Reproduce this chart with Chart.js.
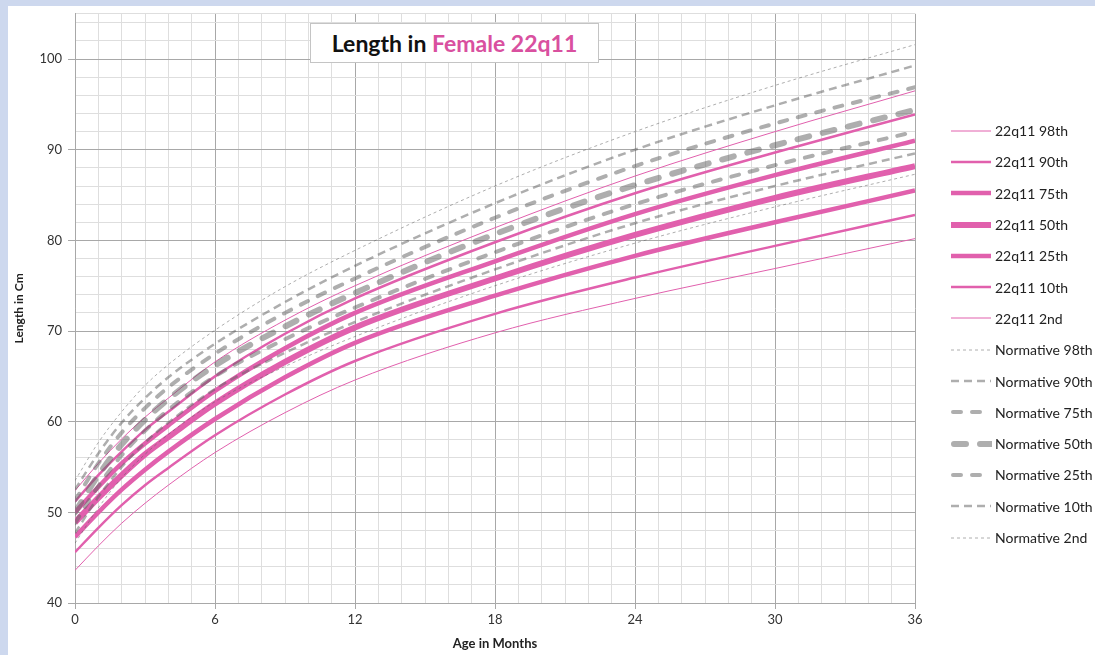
<!DOCTYPE html>
<html>
<head>
<meta charset="utf-8">
<title>Length in Female 22q11</title>
<script src="https://cdn.jsdelivr.net/npm/chart.js@4.4.0/dist/chart.umd.min.js"></script>
<style>
    html, body { margin: 0; padding: 0; }
    body {
        width: 1095px; height: 655px; position: relative; overflow: hidden;
        background: #cdd8ee; font-family: Lato, 'Open Sans', sans-serif;
    }
    #panel { position: absolute; left: 8px; top: 6px; right: 0; bottom: 0; background: #fff; }
    #chart { position: absolute; left: 0; top: 0; }
    #title {
        position: absolute; left: 310px; top: 23px; width: 287px; height: 38px;
        border: 1px solid #c4c4c4; background: #fff; color: #111;
        font-weight: bold; font-size: 23px; line-height: 38px; text-align: center;
    }
    #title span { color: #d9509f; }
    #legend { position: absolute; left: 950px; top: 115px; }
    .item { height: 31.3px; display: flex; align-items: center; font-size: 14px; color: #222; }
    .item svg { margin-right: 3px; }
</style>
</head>
<body>
<div id="panel"></div>
<canvas id="chart" width="1095" height="655"></canvas>
<div id="title">Length in <span>Female 22q11</span></div>
<div id="legend"></div>

<script>
const months = [0, 1, 2, 3, 4, 6, 9, 12, 18, 24, 30, 36];

// 22q11 female percentiles (cm)
const q98 = [52.4, 55.4, 58.1, 60.5, 62.6, 66.6, 71.2, 75.0, 81.4, 87.1, 92.0, 96.5];
const q90 = [51.2, 54.1, 56.7, 59.1, 61.1, 65.0, 69.7, 73.6, 79.8, 85.2, 89.7, 93.9];
const q75 = [50.0, 52.8, 55.4, 57.6, 59.6, 63.4, 68.1, 72.0, 77.7, 82.9, 87.2, 91.0];
const q50 = [48.9, 51.6, 54.1, 56.4, 58.3, 62.0, 66.6, 70.4, 75.8, 80.6, 84.7, 88.2];
const q25 = [47.3, 50.0, 52.5, 54.7, 56.7, 60.3, 64.9, 68.7, 73.9, 78.3, 82.0, 85.5];
const q10 = [45.6, 48.3, 50.8, 53.0, 54.9, 58.5, 63.0, 66.7, 71.9, 75.9, 79.4, 82.8];
const q02 = [43.6, 46.3, 48.8, 51.0, 53.0, 56.6, 61.0, 64.6, 69.8, 73.6, 76.9, 80.2];

// Normative female percentiles (cm)
const norm98 = [53.5, 57.7, 61.1, 64.0, 66.3, 70.1, 74.9, 78.9, 86.0, 92.0, 97.1, 101.6];
const norm90 = [52.5, 56.5, 59.9, 62.6, 64.9, 68.6, 73.2, 77.2, 84.1, 90.0, 94.9, 99.3];
const norm75 = [51.3, 55.4, 58.8, 61.5, 63.8, 67.5, 72.0, 75.8, 82.5, 88.2, 92.9, 96.9];
const norm50 = [50.0, 54.1, 57.5, 60.2, 62.5, 66.2, 70.5, 74.2, 80.7, 86.1, 90.5, 94.4];
const norm25 = [48.8, 52.9, 56.3, 59.0, 61.3, 65.0, 69.1, 72.6, 78.7, 84.0, 88.3, 92.0];
const norm10 = [47.7, 51.7, 55.0, 57.7, 59.9, 63.6, 67.6, 71.0, 76.8, 81.9, 86.0, 89.6];
const norm02 = [46.6, 50.5, 53.8, 56.4, 58.6, 62.2, 66.1, 69.4, 75.0, 79.7, 83.7, 87.3];

const seriesNames = [
    '22q11 98th', '22q11 90th', '22q11 75th', '22q11 50th', '22q11 25th', '22q11 10th', '22q11 2nd',
    'Normative 98th', 'Normative 90th', 'Normative 75th', 'Normative 50th', 'Normative 25th', 'Normative 10th', 'Normative 2nd'
];
const seriesValues = [q98, q90, q75, q50, q25, q10, q02, norm98, norm90, norm75, norm50, norm25, norm10, norm02];

// Axis ticks
const xMajorTicks = [0, 6, 12, 18, 24, 30, 36];
const yMajorTicks = [40, 50, 60, 70, 80, 90, 100];
const yMax = 105;

const PINK = '#e160ad';
const GREY = 'rgba(100,100,100,0.52)';

// line look per series (same order as seriesNames)
const styles = [
    { color: PINK, width: 1,   dash: [],       cap: 'butt' },
    { color: PINK, width: 2.5, dash: [],       cap: 'butt' },
    { color: PINK, width: 4.5, dash: [],       cap: 'butt' },
    { color: PINK, width: 6,   dash: [],       cap: 'butt' },
    { color: PINK, width: 4.5, dash: [],       cap: 'butt' },
    { color: PINK, width: 2.5, dash: [],       cap: 'butt' },
    { color: PINK, width: 1,   dash: [],       cap: 'butt' },
    { color: GREY, width: 1,   dash: [3, 3],   cap: 'butt' },
    { color: GREY, width: 2.5, dash: [8, 5],   cap: 'butt' },
    { color: GREY, width: 4,   dash: [8, 11],  cap: 'round' },
    { color: GREY, width: 6,   dash: [12, 14], cap: 'round' },
    { color: GREY, width: 4,   dash: [8, 11],  cap: 'round' },
    { color: GREY, width: 2.5, dash: [8, 5],   cap: 'butt' },
    { color: GREY, width: 1,   dash: [3, 3],   cap: 'butt' }
];

const datasets = seriesValues.map((vals, i) => ({
    label: seriesNames[i],
    data: months.map((m, j) => ({ x: m, y: vals[j] })),
    borderColor: styles[i].color,
    borderWidth: styles[i].width,
    borderDash: styles[i].dash,
    borderCapStyle: styles[i].cap,
    order: i < 7 ? 1 : 0,   // normative drawn over the pink curves
    fill: false
}));

const xTicks = [];
for (let v = 0; v <= 36; v++) xTicks.push(v);
const yTicks = [];
for (let v = yMajorTicks[0]; v < yMax; v += 2) yTicks.push(v);
yTicks.push(yMax);

const isMajorX = v => xMajorTicks.includes(v);
const isMajorY = v => yMajorTicks.includes(v);

new Chart(document.getElementById('chart'), {
    type: 'line',
    data: { datasets },
    options: {
        responsive: false,
        animation: false,
        layout: { padding: { left: 8, top: 10, right: 180, bottom: 0 } },
        elements: {
            point: { radius: 0 },
            line: { cubicInterpolationMode: 'monotone' }
        },
        plugins: { legend: { display: false }, tooltip: { enabled: false } },
        scales: {
            x: {
                type: 'linear', min: 0, max: 36,
                afterBuildTicks: axis => { axis.ticks = xTicks.map(v => ({ value: v })); },
                afterFit: axis => { axis.height = 52; },
                ticks: {
                    autoSkip: false, maxRotation: 0, padding: 3,
                    color: '#333', font: { family: 'Lato', size: 13 },
                    callback: v => isMajorX(v) ? v : ''
                },
                grid: {
                    color: c => isMajorX(c.tick.value) ? '#a8a8a8' : '#dedede',
                    tickColor: c => isMajorX(c.tick.value) ? '#a8a8a8' : 'rgba(0,0,0,0)',
                    tickLength: 6
                },
                border: { color: '#a8a8a8' },
                title: {
                    display: true, text: 'Age in Months', color: '#222',
                    font: { family: 'Lato', size: 13, weight: 'bold' }, padding: { top: 2, bottom: 3 }
                }
            },
            y: {
                type: 'linear', min: yMajorTicks[0], max: yMax,
                afterBuildTicks: axis => { axis.ticks = yTicks.map(v => ({ value: v })); },
                afterFit: axis => { axis.width = 67; },
                ticks: {
                    autoSkip: false, padding: 6,
                    color: '#333', font: { family: 'Lato', size: 13 },
                    callback: v => isMajorY(v) ? v : ''
                },
                grid: {
                    color: c => isMajorY(c.tick.value) ? '#a8a8a8' : '#dedede',
                    tickColor: c => isMajorY(c.tick.value) ? '#a8a8a8' : 'rgba(0,0,0,0)',
                    tickLength: 7
                },
                border: { color: '#a8a8a8' },
                title: {
                    display: true, text: 'Length in Cm', color: '#222',
                    font: { family: 'Lato', size: 12, weight: 'bold' }, padding: { top: 4, bottom: 4 }
                }
            }
        }
    }
});

// Legend with line samples
const legend = document.getElementById('legend');
legend.innerHTML = seriesNames.map((name, i) => {
    const s = styles[i];
    return `<div class="item"><svg width="42" height="12">
        <line x1="${s.cap === 'round' ? 1 + s.width / 2 : 1}" y1="6" x2="41" y2="6" stroke="${s.color}"
              stroke-width="${s.width}" stroke-dasharray="${s.dash.join(' ')}" stroke-linecap="${s.cap}"/>
        </svg><span>${name}</span></div>`;
}).join('');
</script>
</body>
</html>
